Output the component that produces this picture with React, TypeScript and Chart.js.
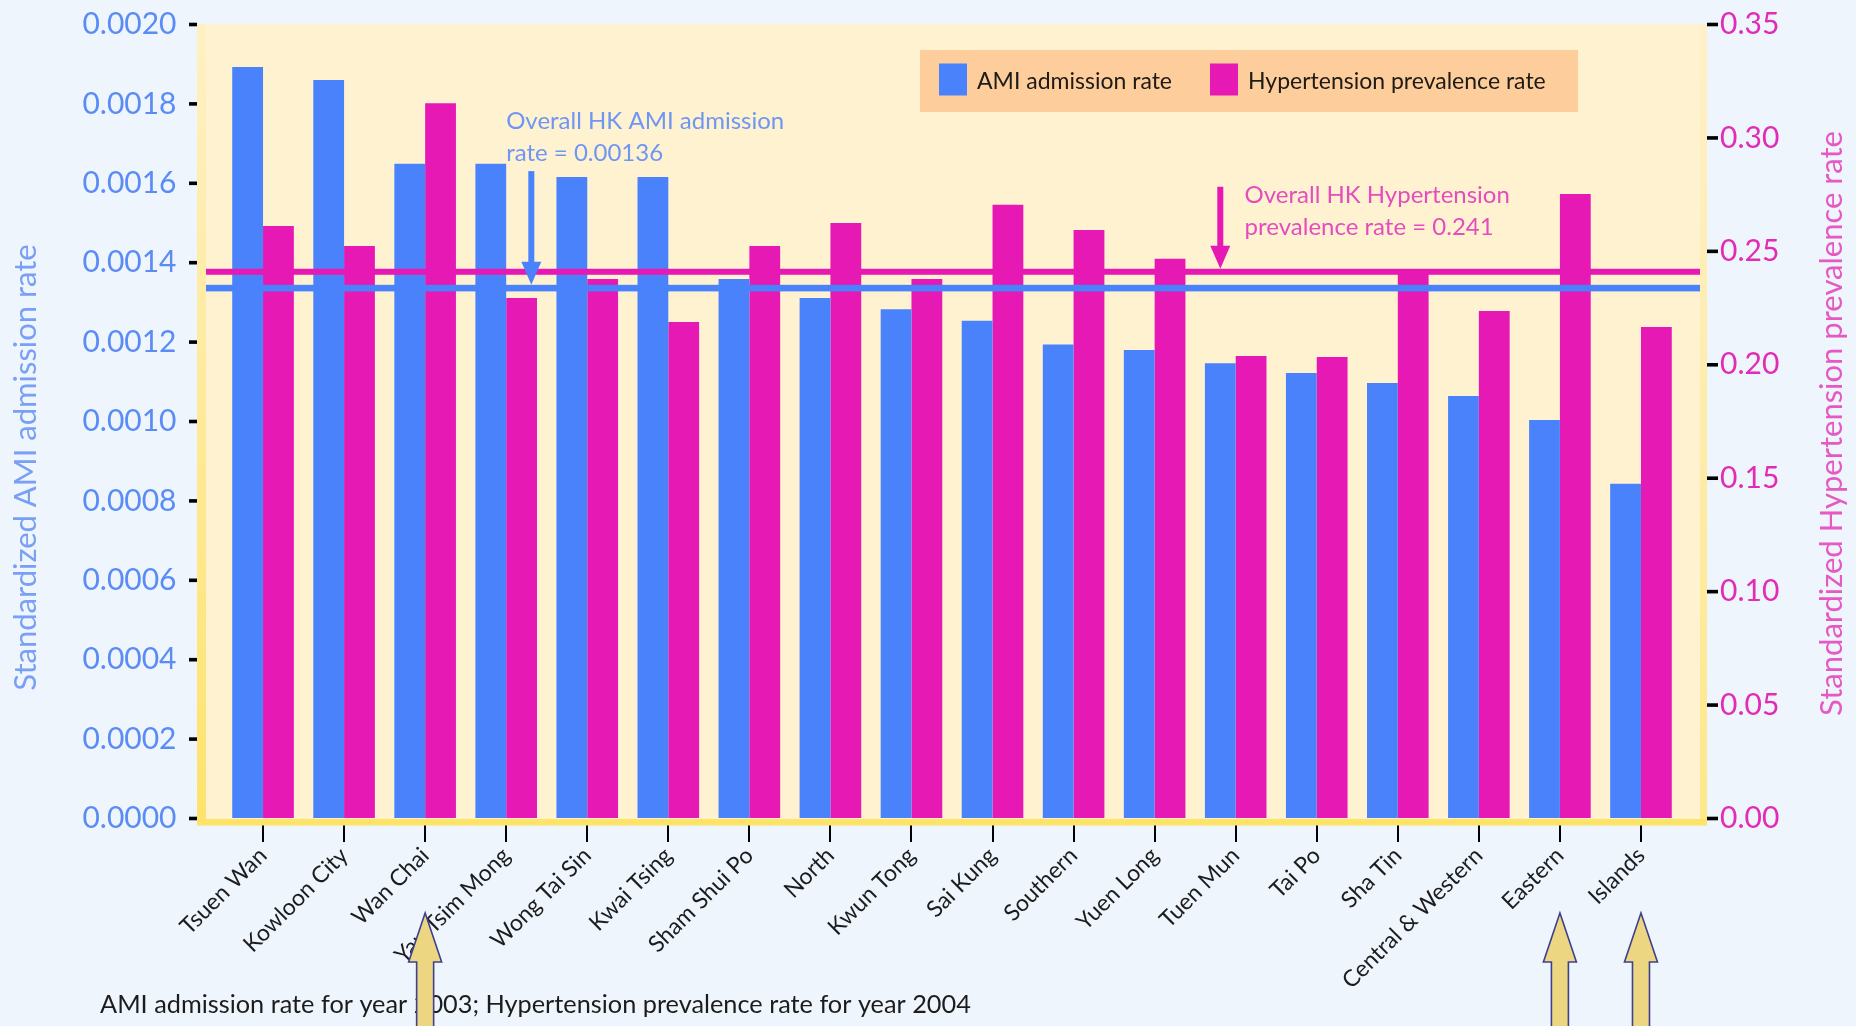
import React, { useEffect, useRef } from 'react';
import { Chart, registerables } from 'chart.js';

Chart.register(...registerables);

// ---------------- data ----------------
const districts = [
  'Tsuen Wan', 'Kowloon City', 'Wan Chai', 'Yau Tsim Mong', 'Wong Tai Sin', 'Kwai Tsing',
  'Sham Shui Po', 'North', 'Kwun Tong', 'Sai Kung', 'Southern', 'Yuen Long',
  'Tuen Mun', 'Tai Po', 'Sha Tin', 'Central & Western', 'Eastern', 'Islands',
];
const amiRates = [
  0.001893, 0.00186, 0.001649, 0.001649, 0.001616, 0.001616,
  0.001359, 0.001311, 0.001283, 0.001254, 0.001194, 0.00118,
  0.001147, 0.001122, 0.001097, 0.001064, 0.001004, 0.000843,
];
const hypertensionRates = [
  0.2612, 0.2524, 0.3153, 0.2294, 0.2378, 0.2189,
  0.2524, 0.2625, 0.2378, 0.2705, 0.2594, 0.2467,
  0.2039, 0.2034, 0.2418, 0.2237, 0.2753, 0.2167,
];
const seriesLabels = ['AMI admission rate', 'Hypertension prevalence rate'];
const amiAxis = { min: 0, max: 0.002, step: 0.0002, decimals: 4 };
const htAxis = { min: 0, max: 0.35, step: 0.05, decimals: 2 };
const amiOverallLine = 0.001336;
const htOverallLine = 0.241;
const amiNote = ['Overall HK AMI admission', 'rate = 0.00136'];
const htNote = ['Overall HK Hypertension', 'prevalence rate = 0.241'];
const amiArrowAt = 3.31; // category position of annotation arrow
const amiNoteAt = 3.0;
const htArrowAt = 11.81;
const htNoteAt = 12.11;
const highlightedDistricts = ['Wan Chai', 'Eastern', 'Islands'];
const leftTitle = 'Standardized AMI admission rate';
const rightTitle = 'Standardized Hypertension prevalence rate';
const footnote = 'AMI admission rate for year 2003; Hypertension prevalence rate for year 2004';

// ---------------- style ----------------
const W = 1856;
const H = 1026;
const FONT = 'Lato, "Noto Sans", sans-serif';
const BLUE = '#4A82FB';
const MAGENTA = '#E619B4';
const PAGE_BG = '#EEF5FD';
const PLOT_BG = '#FFF2D1';
const LEGEND_BG = '#FDCD9B';
const CLEAR = 'rgba(0,0,0,0)';

function txt(ctx: CanvasRenderingContext2D, s: string, x: number, y: number, size: number, color: string, align: CanvasTextAlign = 'left') {
  ctx.font = `${size}px ${FONT}`;
  ctx.fillStyle = color;
  ctx.textAlign = align;
  ctx.textBaseline = 'alphabetic';
  ctx.fillText(s, x, y);
}

function downArrow(ctx: CanvasRenderingContext2D, x: number, y0: number, tip: number, color: string) {
  ctx.fillStyle = color;
  ctx.fillRect(x - 3, y0, 6, tip - 20 - y0);
  ctx.beginPath();
  ctx.moveTo(x - 10, tip - 23);
  ctx.lineTo(x + 10, tip - 23);
  ctx.lineTo(x, tip);
  ctx.closePath();
  ctx.fill();
}

function upArrow(ctx: CanvasRenderingContext2D, x: number, tip: number) {
  ctx.beginPath();
  ctx.moveTo(x, tip);
  ctx.lineTo(x + 16.5, tip + 49);
  ctx.lineTo(x + 8.5, tip + 49);
  ctx.lineTo(x + 8.5, H + 10);
  ctx.lineTo(x - 8.5, H + 10);
  ctx.lineTo(x - 8.5, tip + 49);
  ctx.lineTo(x - 16.5, tip + 49);
  ctx.closePath();
  ctx.fillStyle = '#EDD682';
  ctx.fill();
  ctx.strokeStyle = '#3D418F';
  ctx.lineWidth = 1.6;
  ctx.stroke();
}

const decor = {
  id: 'decor',
  beforeDraw(chart: any) {
    const { ctx, chartArea: a } = chart;
    ctx.save();
    ctx.fillStyle = PAGE_BG;
    ctx.fillRect(0, 0, chart.width, chart.height);
    const L = a.left - 25.5;
    const R = a.right + 25.5;
    const T = a.top - 0.5;
    const B = a.bottom + 6.5;
    ctx.fillStyle = PLOT_BG;
    ctx.fillRect(L, T, R - L, B - T);
    const g = ctx.createLinearGradient(0, T, 0, B);
    g.addColorStop(0, '#FFF0C4');
    g.addColorStop(1, '#FDE36C');
    ctx.fillStyle = g;
    ctx.fillRect(L, T, 9, B - T);
    const g2 = ctx.createLinearGradient(0, T, 0, B);
    g2.addColorStop(0, '#FFF0C8');
    g2.addColorStop(1, '#FDE88A');
    ctx.fillStyle = g2;
    ctx.fillRect(R - 7, T, 7, B - T);
    ctx.restore();
  },
  afterDatasetsDraw(chart: any) {
    const { ctx, chartArea: a, scales } = chart;
    const L = a.left - 16.5;
    const R = a.right + 18.5;
    ctx.save();
    // overall reference lines
    const yHt = scales.y1.getPixelForValue(htOverallLine);
    const yAmi = scales.y.getPixelForValue(amiOverallLine);
    ctx.fillStyle = MAGENTA;
    ctx.fillRect(L, yHt - 3, R - L, 6);
    ctx.fillStyle = BLUE;
    ctx.fillRect(L, yAmi - 3.3, R - L, 6.6);

    // AMI annotation
    const xa = scales.x.getPixelForValue(amiArrowAt);
    downArrow(ctx, xa, yAmi - 117, yAmi - 3.3, BLUE);
    const xn = scales.x.getPixelForValue(amiNoteAt);
    txt(ctx, amiNote[0], xn, yAmi - 159, 24, '#6F96F2');
    txt(ctx, amiNote[1], xn, yAmi - 127, 24, '#6F96F2');

    // Hypertension annotation
    const xh = scales.x.getPixelForValue(htArrowAt);
    downArrow(ctx, xh, yHt - 85, yHt - 3, MAGENTA);
    const xhn = scales.x.getPixelForValue(htNoteAt);
    txt(ctx, htNote[0], xhn, yHt - 69, 24, '#E54DBF');
    txt(ctx, htNote[1], xhn, yHt - 37, 24, '#E54DBF');

    // legend
    const bx = a.right - 103.5 - 658;
    const by = a.top + 25.5;
    ctx.fillStyle = LEGEND_BG;
    ctx.fillRect(bx, by, 658, 62);
    chart.data.datasets.forEach((ds: any, i: number) => {
      const sx = bx + 19 + i * 271;
      ctx.fillStyle = ds.backgroundColor;
      ctx.fillRect(sx, by + 13.5, 28, 32);
      txt(ctx, ds.label, sx + 38, by + 39, 23, '#1E1A16');
    });
    ctx.restore();
  },
  afterDraw(chart: any) {
    const { ctx, chartArea: a, scales } = chart;
    const L = a.left - 25.5;
    const R = a.right + 25.5;
    ctx.save();
    // bottom yellow border
    ctx.fillStyle = '#FDE466';
    ctx.fillRect(L, a.bottom + 0.5, R - L, 6.5);
    // y tick marks
    ctx.fillStyle = '#000';
    scales.y.ticks.forEach((t: any) => {
      const y = scales.y.getPixelForValue(t.value);
      ctx.fillRect(L - 8, y - 1.8, 8, 3.6);
    });
    scales.y1.ticks.forEach((t: any) => {
      const y = scales.y1.getPixelForValue(t.value);
      ctx.fillRect(R, y - 1.8, 11, 3.6);
    });
    // axis titles
    ctx.save();
    ctx.translate(26, a.bottom - 351);
    ctx.rotate(-Math.PI / 2);
    ctx.font = `31px ${FONT}`;
    ctx.fillStyle = '#79A0F4';
    ctx.textAlign = 'center';
    ctx.textBaseline = 'middle';
    ctx.fillText(leftTitle, 0, 0);
    ctx.restore();
    ctx.save();
    ctx.translate(W - 24, (a.top + a.bottom) / 2 + 2);
    ctx.rotate(-Math.PI / 2);
    ctx.font = `31px ${FONT}`;
    ctx.fillStyle = '#E659C3';
    ctx.textAlign = 'center';
    ctx.textBaseline = 'middle';
    ctx.fillText(rightTitle, 0, 0);
    ctx.restore();
    // footnote
    txt(ctx, footnote, 100, H - 13, 25.3, '#1C1C1C');
    // highlight arrows
    highlightedDistricts.forEach((d) => {
      const x = scales.x.getPixelForValue(districts.indexOf(d));
      upArrow(ctx, x, a.bottom + 94.5);
    });
    ctx.restore();
  },
};

export default function App() {
  const ref = useRef<HTMLCanvasElement>(null);
  useEffect(() => {
    const chart = new Chart(ref.current as HTMLCanvasElement, {
      type: 'bar',
      data: {
        labels: districts,
        datasets: [
          {
            label: seriesLabels[0],
            data: amiRates,
            backgroundColor: BLUE,
            yAxisID: 'y',
            categoryPercentage: 0.76,
            barPercentage: 1.0,
          },
          {
            label: seriesLabels[1],
            data: hypertensionRates,
            backgroundColor: MAGENTA,
            yAxisID: 'y1',
            categoryPercentage: 0.76,
            barPercentage: 1.0,
          },
        ],
      },
      options: {
        responsive: false,
        maintainAspectRatio: false,
        devicePixelRatio: 1,
        animation: false,
        layout: { padding: { top: 24.5, left: 0, right: 0, bottom: 0 } },
        plugins: { legend: { display: false }, tooltip: { enabled: false } },
        scales: {
          x: {
            grid: { display: true, drawOnChartArea: false, drawTicks: true, tickLength: 23.5, color: '#000', lineWidth: 2, offset: false },
            border: { display: false },
            ticks: {
              color: '#1C1C1C',
              font: { family: FONT, size: 23 },
              minRotation: 45,
              maxRotation: 45,
              autoSkip: false,
              padding: 0,
            },
            afterFit: (s: any) => { s.height = H - 818.5; },
          },
          y: {
            position: 'left',
            min: amiAxis.min,
            max: amiAxis.max,
            grid: { display: true, drawOnChartArea: false, drawTicks: true, tickLength: 46, color: CLEAR },
            border: { display: false },
            ticks: {
              stepSize: amiAxis.step,
              color: '#5B8CF6',
              font: { family: FONT, size: 30 },
              padding: 0,
              callback: (v: any) => Number(v).toFixed(amiAxis.decimals),
            },
            afterFit: (s: any) => { s.width = 222.5; },
          },
          y1: {
            position: 'right',
            min: htAxis.min,
            max: htAxis.max,
            grid: { display: true, drawOnChartArea: false, drawTicks: true, tickLength: 38.5, color: CLEAR },
            border: { display: false },
            ticks: {
              stepSize: htAxis.step,
              color: '#E22CB6',
              font: { family: FONT, size: 30 },
              padding: 0,
              callback: (v: any) => Number(v).toFixed(htAxis.decimals),
            },
            afterFit: (s: any) => { s.width = W - 1681.5; },
          },
        },
      },
      plugins: [decor],
    } as any);
    return () => chart.destroy();
  }, []);
  return (
    <div style={{ position: 'absolute', left: 0, top: 0, width: W, height: H, overflow: 'hidden' }}>
      <canvas ref={ref} width={W} height={H} style={{ display: 'block', width: W, height: H }} />
    </div>
  );
}
